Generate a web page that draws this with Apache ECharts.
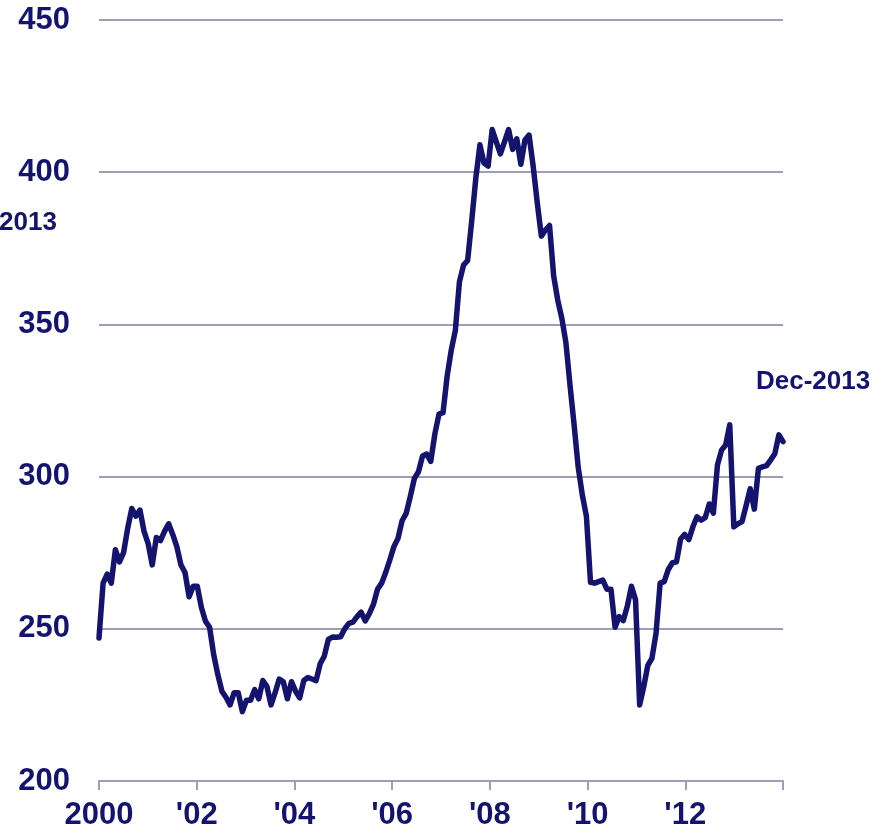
<!DOCTYPE html>
<html>
<head>
    <meta charset="utf-8">
    <title>Index</title>
    <script src="https://cdn.jsdelivr.net/npm/echarts@6/dist/echarts.min.js"></script>
    <style>
        html, body { margin: 0; padding: 0; background: #fff; }
        #main { width: 889px; height: 835px; }
    </style>
</head>
<body>
    <div id="main"></div>
<script>
// monthly values, Jan-2000 .. Dec-2013
var values = [
    247, 265, 268, 265, 276, 272, 275, 283, 289.5, 287, 289, 282,
    278, 271, 280, 279, 282, 284.5, 281, 277, 271, 268.5, 260.5, 264,
    264, 257, 252.5, 250.5, 241.5, 235, 229.5, 227.5, 225, 229, 229, 222.8,
    226.5, 226.5, 230, 227, 233, 231, 225, 229, 233.5, 232.6, 227, 232.6,
    229.5, 227.3, 233, 234, 233.5, 233, 238.5, 241, 246.5, 247.3, 247.2, 247.4,
    250, 251.8, 252.2, 254, 255.5, 252.6, 255, 258, 263, 265, 268.5, 272.6,
    277, 279.7, 285.5, 287.9, 293.4, 299.4, 301.6, 306.8, 307.4, 305, 314, 320.5,
    321, 333, 341.5, 348, 364, 369.5, 371, 384, 398, 409, 403, 402,
    414, 410, 406, 410, 414, 407.5, 411, 402.6, 410.6, 412.2, 402, 390,
    379, 381, 382.5, 366, 358, 352, 344, 330, 317, 303, 294, 287,
    265.3, 265, 265.5, 266, 263, 263, 250.5, 254, 252.7, 257.5, 264, 259.5,
    225, 231, 238, 240.3, 248.5, 265, 265.5, 269.5, 271.7, 272, 279.5, 281,
    279.3, 283.5, 286.8, 285.7, 286.5, 291, 288, 303.8, 308.7, 310.4, 317, 283.5,
    284.5, 285.2, 290.5, 296, 289.3, 302.7, 303.2, 303.6, 305.5, 307.5, 313.7, 311.5
];
var monthNames = ['Jan', 'Feb', 'Mar', 'Apr', 'May', 'Jun', 'Jul', 'Aug', 'Sep', 'Oct', 'Nov', 'Dec'];
var years = [2000, 2001, 2002, 2003, 2004, 2005, 2006, 2007, 2008, 2009, 2010, 2011, 2012, 2013];
var tickLabels = ['2000', "'02", "'04", "'06", "'08", "'10", "'12", ''];

var months = [];
years.forEach(function (y) {
    monthNames.forEach(function (m) { months.push(m + '-' + y); });
});

var navy = '#14146e';
var gridColor = '#9d9db6';
var font = 'Liberation Sans, Arial, sans-serif';

var myChart = echarts.init(document.getElementById('main'));

var option = {
    animation: false,
    backgroundColor: '#fff',
    grid: { left: 99, right: 106, top: 20, bottom: 54, containLabel: false },
    xAxis: [{
        type: 'category',
        data: months,
        boundaryGap: false,
        show: false
    }, {
        type: 'value',
        position: 'bottom',
        min: 0,
        max: 168,
        interval: 24,
        axisLine: { show: true, lineStyle: { color: gridColor, width: 2 } },
        axisTick: { show: true, length: 9, lineStyle: { color: gridColor, width: 2 } },
        splitLine: { show: false },
        axisLabel: {
            color: navy,
            fontSize: 31,
            fontWeight: 'bold',
            fontFamily: font,
            margin: 19,
            showMaxLabel: true,
            formatter: function (v) { return tickLabels[Math.round(v / 24)]; }
        }
    }],
    yAxis: {
        type: 'value',
        min: 200,
        max: 450,
        interval: 50,
        axisLine: { show: false },
        axisTick: { show: false },
        splitLine: { lineStyle: { color: gridColor, width: 2 } },
        axisLabel: {
            color: navy,
            fontSize: 31,
            fontWeight: 'bold',
            fontFamily: font,
            margin: 29
        }
    },
    graphic: [{
        type: 'text',
        left: 756,
        top: 369,
        style: { text: 'Dec-2013', fill: navy, font: 'bold 26px ' + font }
    }, {
        type: 'text',
        left: -1,
        top: 210,
        style: { text: '2013', fill: navy, font: 'bold 26px ' + font }
    }],
    series: [{
        type: 'line',
        xAxisIndex: 0,
        data: values,
        showSymbol: false,
        symbol: 'none',
        lineStyle: { color: navy, width: 5.5, join: 'round', cap: 'round' },
        z: 5
    }]
};

myChart.setOption(option);
</script>
</body>
</html>
